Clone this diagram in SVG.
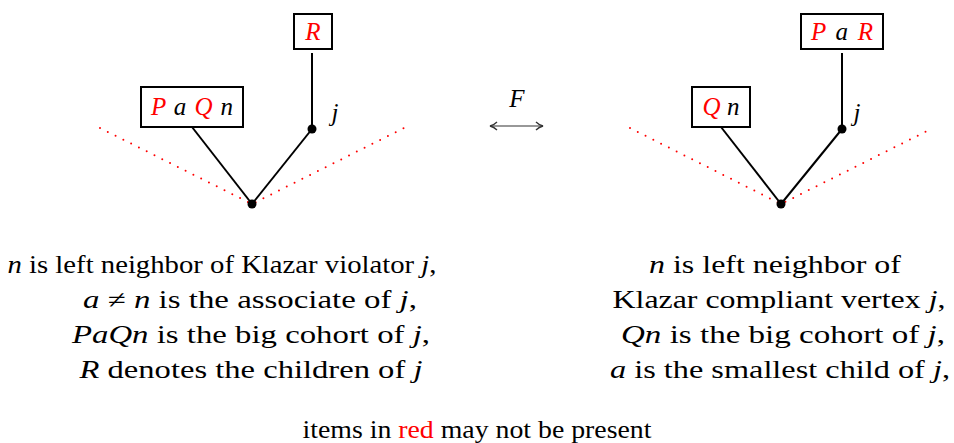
<svg xmlns="http://www.w3.org/2000/svg" width="954" height="443" viewBox="0 0 954 443">
<style>
text{font-size:25px;fill:#000}
.i{font-style:italic}
.r{fill:#ff0000}
.box{fill:#fff;stroke:#000;stroke-width:2}
.edge{stroke:#000;stroke-width:2;fill:none}
.dot{stroke:#ff0000;stroke-width:2;stroke-linecap:round;stroke-dasharray:0 8.7;fill:none}
.c{text-anchor:middle}
</style>
<defs>
<marker id="ah" viewBox="0 0 10 10" refX="9" refY="5" markerWidth="10" markerHeight="10" markerUnits="userSpaceOnUse" orient="auto-start-reverse">
<path d="M2,1 Q5,4 9,5 Q5,6 2,9" fill="none" stroke="#333" stroke-width="1.3"/>
</marker>
</defs>
<g id="connectors">
<path class="dot" d="M100,128 L252,204 L404,128"/>
<path class="dot" d="M630,128 L781,204 L933,128"/>
<line class="edge" x1="192" y1="127" x2="252" y2="204"/>
<line class="edge" x1="252" y1="204" x2="312" y2="129"/>
<line class="edge" x1="312" y1="129" x2="312" y2="53"/>
<line class="edge" x1="721" y1="127" x2="781" y2="204"/>
<line class="edge" x1="781" y1="204" x2="842" y2="129"/>
<line class="edge" x1="842" y1="129" x2="842" y2="53"/>
<line x1="490" y1="126" x2="543" y2="126" stroke="#333" stroke-width="1.2" marker-start="url(#ah)" marker-end="url(#ah)"/>
<text x="517" y="107" class="c i" style="font-family:'Liberation Serif', serif">F</text>
</g>
<g id="left-root"><circle cx="252" cy="204" r="4.5"/></g>
<g id="left-j"><circle cx="312" cy="129" r="4.5"/><text x="335" y="121" class="c i" style="font-family:'Liberation Serif', serif">j</text></g>
<g id="left-R"><rect class="box" x="294" y="14" width="38" height="35"/><text x="313" y="40" class="c i r" style="font-family:'Liberation Serif', serif">R</text></g>
<g id="left-PaQn"><rect class="box" x="141" y="87" width="102" height="40"/><text x="192" y="115" class="c i" style="font-family:'Liberation Serif', serif" textLength="82" lengthAdjust="spacing"><tspan class="r">P</tspan> a <tspan class="r">Q</tspan> n</text></g>
<g id="right-root"><circle cx="781" cy="204" r="4.5"/></g>
<g id="right-j"><circle cx="842" cy="129" r="4.5"/><text x="857" y="121" class="c i" style="font-family:'Liberation Serif', serif">j</text></g>
<g id="right-PaR"><rect class="box" x="801" y="14" width="82" height="35"/><text x="842" y="40" class="c i" style="font-family:'Liberation Serif', serif" textLength="62" lengthAdjust="spacing"><tspan class="r">P</tspan> a <tspan class="r">R</tspan></text></g>
<g id="right-Qn"><rect class="box" x="692" y="87" width="58" height="40"/><text x="721" y="115" class="c i" style="font-family:'Liberation Serif', serif"><tspan class="r">Q</tspan> n</text></g>
<g id="left-text">
<text x="222" y="273" class="c" style="font-family:'Liberation Serif', serif" textLength="429" lengthAdjust="spacingAndGlyphs"><tspan class="i">n</tspan> is left neighbor of Klazar violator <tspan class="i">j</tspan>,</text>
<text x="250" y="308" class="c" style="font-family:'Liberation Serif', serif" textLength="334" lengthAdjust="spacingAndGlyphs"><tspan class="i">a</tspan> ≠ <tspan class="i">n</tspan> is the associate of <tspan class="i">j</tspan>,</text>
<text x="251" y="343" class="c" style="font-family:'Liberation Serif', serif" textLength="358" lengthAdjust="spacingAndGlyphs"><tspan class="i">PaQn</tspan> is the big cohort of <tspan class="i">j</tspan>,</text>
<text x="251" y="378" class="c" style="font-family:'Liberation Serif', serif" textLength="343" lengthAdjust="spacingAndGlyphs"><tspan class="i">R</tspan> denotes the children of <tspan class="i">j</tspan></text>
</g>
<g id="right-text">
<text x="775" y="273" class="c" style="font-family:'Liberation Serif', serif" textLength="252" lengthAdjust="spacingAndGlyphs"><tspan class="i">n</tspan> is left neighbor of</text>
<text x="779" y="308" class="c" style="font-family:'Liberation Serif', serif" textLength="333" lengthAdjust="spacingAndGlyphs">Klazar compliant vertex <tspan class="i">j</tspan>,</text>
<text x="783" y="343" class="c" style="font-family:'Liberation Serif', serif" textLength="324" lengthAdjust="spacingAndGlyphs"><tspan class="i">Qn</tspan> is the big cohort of <tspan class="i">j</tspan>,</text>
<text x="780" y="378" class="c" style="font-family:'Liberation Serif', serif" textLength="340" lengthAdjust="spacingAndGlyphs"><tspan class="i">a</tspan> is the smallest child of <tspan class="i">j</tspan>,</text>
</g>
<g id="note">
<text x="477" y="438" class="c" style="font-family:'Liberation Serif', serif" textLength="349" lengthAdjust="spacingAndGlyphs">items in <tspan class="r">red</tspan> may not be present</text>
</g>
</svg>
